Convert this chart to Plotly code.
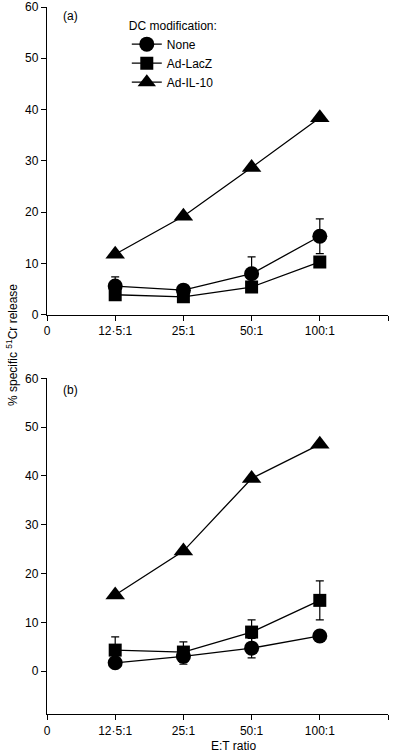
import plotly.graph_objects as go
from plotly.subplots import make_subplots

ratios = ["12·5:1", "25:1", "50:1", "100:1"]
xpos = [1, 2, 3, 4]
tick_vals = [0, 1, 2, 3, 4, 5]
tick_text = ["0", "12·5:1", "25:1", "50:1", "100:1", ""]

# Panel (a)
a_none = [5.6, 4.8, 8.0, 15.3]
a_none_err = [1.8, 0.0, 3.3, 3.4]
a_lacz = [3.9, 3.5, 5.4, 10.3]
a_lacz_err = [0.0, 0.0, 0.0, 0.0]
a_il10 = [11.8, 19.2, 28.7, 38.4]

# Panel (b)
b_none = [1.7, 3.0, 4.7, 7.2]
b_none_err = [0.0, 1.6, 2.0, 0.0]
b_lacz = [4.3, 3.9, 8.0, 14.5]
b_lacz_err = [2.7, 2.1, 2.5, 4.0]
b_il10 = [15.6, 24.6, 39.5, 46.5]

FONT = "Liberation Sans, Arial, Helvetica, sans-serif"

fig = make_subplots(rows=2, cols=1, shared_xaxes=False, vertical_spacing=0.09)

def add(row, y, err, name, symbol, size, show):
    fig.add_trace(go.Scatter(
        x=xpos, y=y, name=name, mode="lines+markers",
        line=dict(color="black", width=1.3),
        marker=dict(symbol=symbol, size=size, color="black"),
        error_y=dict(type="data", array=err, visible=True, color="black",
                     thickness=1.2, width=4) if err is not None else None,
        showlegend=show, legendgroup=name,
    ), row=row, col=1)

add(1, a_none, a_none_err, "None", "circle", 15, True)
add(1, a_lacz, a_lacz_err, "Ad-LacZ", "square", 13, True)
add(1, a_il10, None, "Ad-IL-10", "triangle-up", 17, True)
add(2, b_none, b_none_err, "None", "circle", 15, False)
add(2, b_lacz, b_lacz_err, "Ad-LacZ", "square", 13, False)
add(2, b_il10, None, "Ad-IL-10", "triangle-up", 17, False)

axis_common = dict(showline=True, linecolor="black", linewidth=1.3, ticks="outside",
                   tickcolor="black", ticklen=5, tickwidth=1.2, showgrid=False,
                   zeroline=False, automargin=False, ticklabeloverflow="allow",
                   tickfont=dict(family=FONT, size=12, color="black"))

for r in (1, 2):
    fig.update_xaxes(range=[0, 5], tickmode="array", tickvals=tick_vals, ticktext=tick_text,
                     row=r, col=1, **axis_common)

fig.update_yaxes(range=[0, 60], tickvals=[0, 10, 20, 30, 40, 50, 60], row=1, col=1, **axis_common)
fig.update_yaxes(range=[-8.8, 60], tickvals=[0, 10, 20, 30, 40, 50, 60], row=2, col=1, **axis_common)

fig.update_layout(
    width=414, height=755,
    margin=dict(l=47, r=26, t=7, b=41, autoexpand=False),
    paper_bgcolor="white", plot_bgcolor="white",
    font=dict(family=FONT, size=12, color="black"),
    yaxis=dict(domain=[0.5647, 1.0]),
    yaxis2=dict(domain=[0.0, 0.4746]),
    legend=dict(x=0.234, y=0.99, xanchor="left", yanchor="top",
                title=dict(text="DC modification:", font=dict(family=FONT, size=12)),
                font=dict(family=FONT, size=12), bgcolor="rgba(0,0,0,0)",
                tracegroupgap=0, itemwidth=30),
    annotations=[
        dict(text="(a)", xref="paper", yref="paper", x=(70 - 47) / 341, y=(714 - 16) / 707,
             showarrow=False, font=dict(family=FONT, size=12), xanchor="center", yanchor="middle"),
        dict(text="(b)", xref="paper", yref="paper", x=(70 - 47) / 341, y=(714 - 390) / 707,
             showarrow=False, font=dict(family=FONT, size=12), xanchor="center", yanchor="middle"),
        dict(text="% specific <sup>51</sup>Cr release", xref="paper", yref="paper",
             x=(12 - 47) / 341, y=(714 - 345) / 707, textangle=-90, showarrow=False,
             font=dict(family=FONT, size=12), xanchor="center", yanchor="middle"),
        dict(text="E:T ratio", xref="paper", yref="paper",
             x=(233 - 47) / 341, y=(714 - 746) / 707, showarrow=False,
             font=dict(family=FONT, size=12), xanchor="center", yanchor="middle"),
    ],
)

fig.write_html("out.html", config={"displayModeBar": False},
               post_script="document.body.style.margin='0';")
